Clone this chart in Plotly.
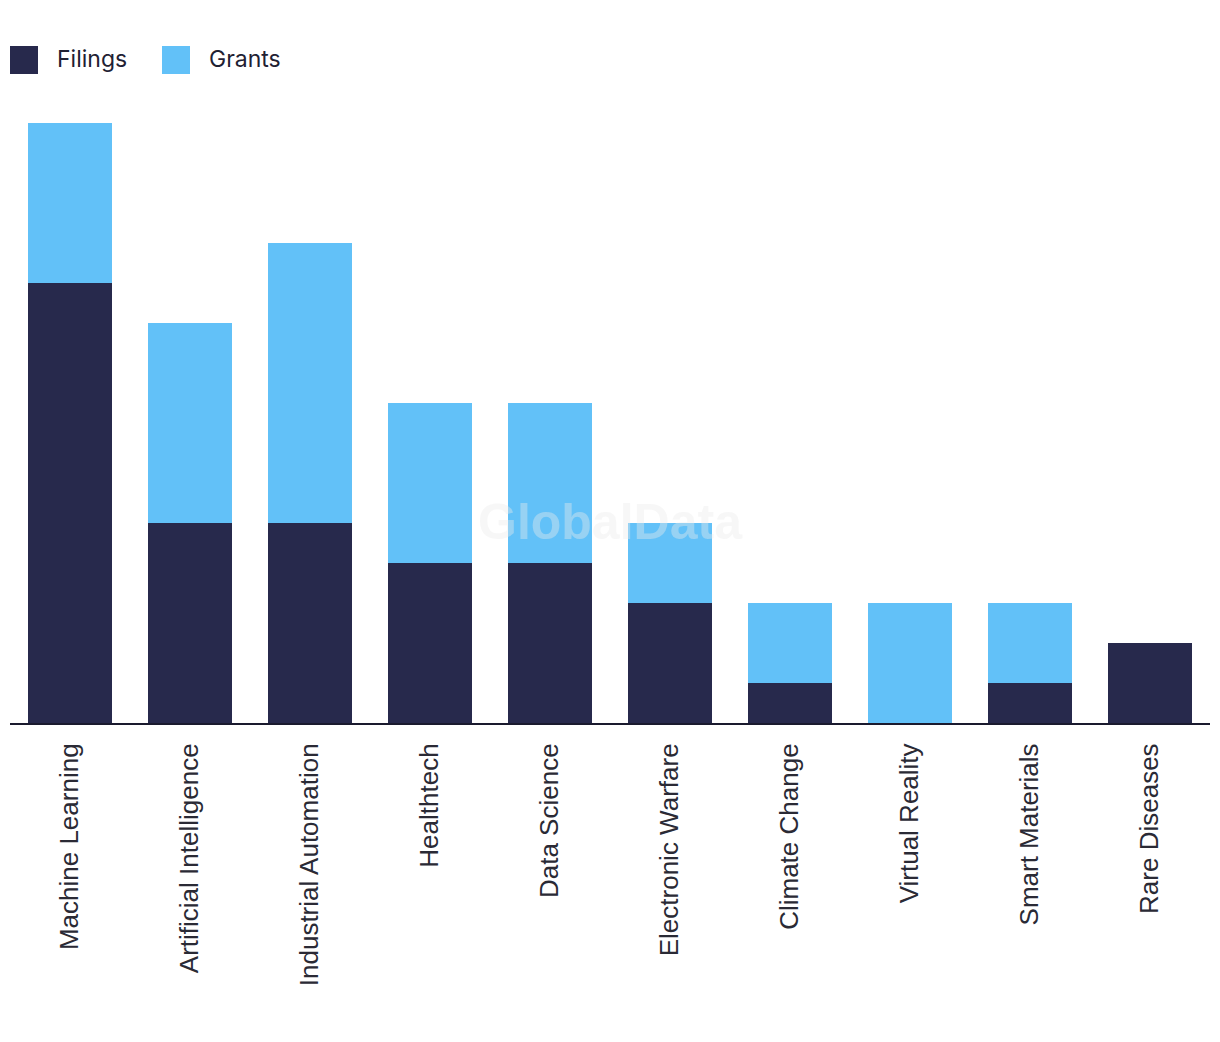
import plotly.graph_objects as go

categories = ["Machine Learning", "Artificial Intelligence", "Industrial Automation",
              "Healthtech", "Data Science", "Electronic Warfare", "Climate Change",
              "Virtual Reality", "Smart Materials", "Rare Diseases"]
filings = [11, 5, 5, 4, 4, 3, 1, 0, 1, 2]
grants = [4, 5, 7, 4, 4, 2, 2, 3, 2, 0]

NAVY = "#27294C"
BLUE = "#62C1F8"

fig = go.Figure()
fig.add_trace(go.Bar(x=categories, y=filings, name="Filings", marker_color=NAVY,
                     marker_line_width=0, showlegend=False))
fig.add_trace(go.Bar(x=categories, y=grants, name="Grants", marker_color=BLUE,
                     marker_line_width=0, showlegend=False))

# plot area on page: x 10..1210, y 123..723 (pixels)
W, H = 1200.0, 600.0
def px_x(p):
    return (p - 10) / W
def px_y(p):
    return (723 - p) / H

legend_items = [("Filings", NAVY, 10, 55), ("Grants", BLUE, 162, 207)]
for label, color, sx, tx in legend_items:
    fig.add_shape(type="rect", xref="paper", yref="paper",
                  x0=px_x(sx), x1=px_x(sx + 28), y0=px_y(74), y1=px_y(46),
                  fillcolor=color, line_width=0)
    fig.add_annotation(text=label, xref="paper", yref="paper",
                       x=px_x(tx), y=px_y(59), xanchor="left", yanchor="middle",
                       showarrow=False,
                       font=dict(family="Inter, Open Sans, sans-serif", size=23, color="#1f2133"))

fig.add_annotation(text="<b>GlobalData</b>", xref="paper", yref="paper",
                   x=px_x(610), y=px_y(522), xanchor="center", yanchor="middle",
                   showarrow=False,
                   font=dict(family="Liberation Sans, Arial, sans-serif", size=50,
                             color="rgba(235,235,235,0.4)"))

fig.update_layout(
    barmode="stack",
    bargap=0.3,
    width=1220, height=1042,
    margin=dict(l=2, r=18, t=115, b=327),
    plot_bgcolor="white", paper_bgcolor="white",
    font=dict(family="Liberation Sans, Arial, sans-serif", color="#2a2a35"),
)
fig.update_xaxes(tickangle=-90, tickfont=dict(size=26, family="Liberation Sans, Arial, sans-serif", color="#2a2a35"),
                 showline=True, linecolor="#1a1a2e", linewidth=2, ticks="",
                 showgrid=False, zeroline=False, ticklabelstandoff=8)
fig.update_yaxes(visible=False, range=[0, 15], showgrid=False, zeroline=False)

fig.write_html("out.html")
